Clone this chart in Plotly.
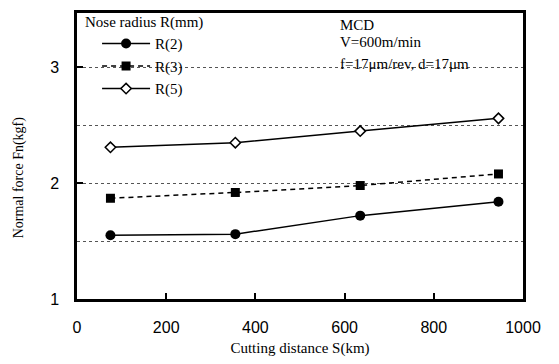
import plotly.graph_objects as go

distance = [75, 355, 635, 945]
r2 = [1.55, 1.56, 1.72, 1.84]
r3 = [1.87, 1.92, 1.98, 2.08]
r5 = [2.31, 2.35, 2.45, 2.56]
series_names = ["R(2)", "R(3)", "R(5)"]
x_ticks = [0, 200, 400, 600, 800, 1000]
y_ticks = [1, 2, 3]

serif = "Liberation Serif"
sans = "Liberation Sans"

fig = go.Figure()
styles = [
    dict(line=dict(color="black", width=1.5, dash="solid"),
         marker=dict(symbol="circle", size=10, color="black")),
    dict(line=dict(color="black", width=1.5, dash="5px,4px"),
         marker=dict(symbol="square", size=9, color="black")),
    dict(line=dict(color="black", width=1.5, dash="solid"),
         marker=dict(symbol="diamond", size=8, color="white",
                     line=dict(color="black", width=1.5))),
]
for name, ys, st, g in zip(series_names, [r2, r3, r5], styles, ["a", "b", "c"]):
    fig.add_trace(go.Scatter(x=distance, y=ys, mode="lines+markers", name=name,
                             legendgroup=g, **st))

fig.update_layout(
    width=559, height=364,
    margin=dict(l=77, r=36, t=10, b=62),
    paper_bgcolor="white", plot_bgcolor="white",
    showlegend=True,
    legend=dict(
        x=0.045, y=0.95, xanchor="left", yanchor="top",
        bgcolor="rgba(0,0,0,0)",
        font=dict(family=serif, size=15, color="black"),
        tracegroupgap=0,
        itemwidth=48,
    ),
    xaxis=dict(
        range=[0, 1000], tickvals=x_ticks, ticks="inside", ticklen=6,
        tickcolor="black", tickwidth=1.5,
        showline=True, linecolor="black", linewidth=2.5, mirror=True,
        showgrid=False, zeroline=False,
        ticklabelstandoff=12,
        tickfont=dict(family=sans, size=16, color="black"),
        title=dict(text="Cutting distance S(km)", font=dict(family=serif, size=15, color="black"),
                   standoff=8),
    ),
    yaxis=dict(
        range=[1, 3.47], tickvals=y_ticks, ticks="inside", ticklen=6,
        tickcolor="black", tickwidth=1.5,
        showline=True, linecolor="black", linewidth=2.5, mirror=True,
        showgrid=True, gridcolor="#555555", griddash="dot", gridwidth=1,
        minor=dict(dtick=0.5, tick0=1, showgrid=True, gridcolor="#555555",
                   griddash="dot", gridwidth=1, ticks=""),
        zeroline=False,
        ticklabelstandoff=12,
        tickfont=dict(family=sans, size=16, color="black"),
    ),
)

fig.add_annotation(
    xref="paper", yref="paper", x=-0.128, y=0.425, xanchor="center", yanchor="middle",
    textangle=-90, showarrow=False, text="Normal force Fn(kgf)",
    font=dict(family=serif, size=14, color="black"),
)
fig.add_annotation(
    xref="paper", yref="paper", x=0.013, y=0.966, xanchor="left", yanchor="middle",
    showarrow=False, text="Nose radius R(mm)",
    font=dict(family=serif, size=15, color="black"),
)
info_lines = ["MCD", "V=600m/min", "f=17μm/rev, d=17μm"]
info_y = [0.959, 0.897, 0.822]
for t, yy in zip(info_lines, info_y):
    fig.add_annotation(
        xref="paper", yref="paper", x=0.585, y=yy, xanchor="left", yanchor="middle",
        showarrow=False, text=t,
        font=dict(family=serif, size=15, color="black"),
    )

fig.write_html("out.html")
